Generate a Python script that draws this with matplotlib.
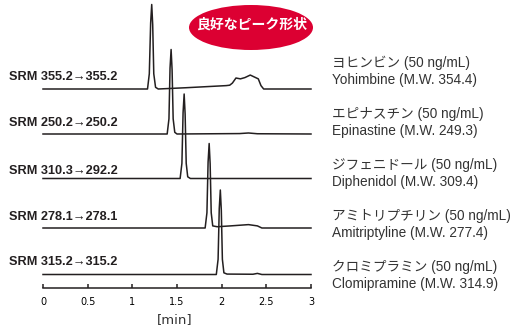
import matplotlib
matplotlib.use("Agg")
import matplotlib.pyplot as plt
from matplotlib.patches import Ellipse

# クロマトグラム (時間[min], 相対強度[%])
t1 = [0, 1.17, 1.19, 1.205, 1.217, 1.228, 1.24, 1.26, 1.29, 1.6, 2.05, 2.09, 2.12, 2.16, 2.21, 2.26, 2.32, 2.37, 2.41, 2.44, 2.47, 3.0]
y1 = [0, 0, 18, 78, 100, 76, 18, 2, 0, 1.5, 4, 4.5, 7, 13, 12, 13.5, 16.5, 14, 12, 4, 0, 0]

t2 = [0, 1.39, 1.41, 1.422, 1.434, 1.445, 1.457, 1.475, 1.5, 2.2, 2.3, 2.4, 3.0]
y2 = [0, 0, 18, 78, 100, 76, 18, 2, 0, 0.5, 1.2, 0.3, 0]

t3 = [0, 1.535, 1.555, 1.568, 1.58, 1.591, 1.603, 1.62, 1.65, 3.0]
y3 = [0, 0, 18, 78, 100, 76, 18, 2, 0, 0]

t4 = [0, 1.815, 1.835, 1.848, 1.86, 1.871, 1.883, 1.9, 1.95, 2.1, 2.3, 2.4, 2.45, 3.0]
y4 = [0, 0, 18, 78, 100, 76, 18, 2.5, 1.5, 2.5, 4, 2.5, 0, 0]

t5 = [0, 1.94, 1.96, 1.973, 1.985, 1.996, 2.008, 2.025, 2.06, 2.35, 2.4, 2.45, 3.0]
y5 = [0, 0, 18, 78, 100, 76, 18, 2, 0.5, 0.3, 1.3, 0, 0]

srm_labels = ["SRM 355.2→355.2", "SRM 250.2→250.2", "SRM 310.3→292.2",
              "SRM 278.1→278.1", "SRM 315.2→315.2"]
names_jp = ["ヨヒンビン (50 ng/mL)", "エピナスチン (50 ng/mL)", "ジフェニドール (50 ng/mL)",
            "アミトリプチリン (50 ng/mL)", "クロミプラミン (50 ng/mL)"]
names_en = ["Yohimbine (M.W. 354.4)", "Epinastine (M.W. 249.3)", "Diphenidol (M.W. 309.4)",
            "Amitriptyline (M.W. 277.4)", "Clomipramine (M.W. 314.9)"]
xticks = [0, 0.5, 1, 1.5, 2, 2.5, 3]
xticklabels = ["0", "0.5", "1", "1.5", "2", "2.5", "3"]

W, H = 518, 333
fig = plt.figure(figsize=(W / 100, H / 100), dpi=100)
ax = fig.add_axes([43 / W, (H - 288) / H, (311 - 43) / W, 288 / H])
ax.set_xlim(0, 3)
ax.set_ylim(0, 288)

traces = [(t1, y1), (t2, y2), (t3, y3), (t4, y4), (t5, y5)]
base_px = [89, 134, 178.5, 228, 274.5]
scale = 0.845
line_c = "#231f20"
for (t, y), b in zip(traces, base_px):
    off = 288 - b
    ax.plot(t, [off + v * scale for v in y], color=line_c, lw=1.1, clip_on=False,
            solid_joinstyle="round")

for s in ["top", "right", "left"]:
    ax.spines[s].set_visible(False)
ax.spines["bottom"].set_color(line_c)
ax.spines["bottom"].set_linewidth(1.1)
ax.set_yticks([])
ax.set_xticks(xticks)
ax.set_xticklabels(xticklabels, family=["Liberation Sans Narrow", "DejaVu Sans"], fontsize=7)
ax.tick_params(axis="x", direction="in", length=3, width=1.1, color=line_c, pad=6.5)
ax.patch.set_alpha(0)

# 左のSRMラベル
srm_y = [77.3, 123, 170.7, 217, 262]
for lab, y in zip(srm_labels, srm_y):
    fig.text(9 / W, 1 - y / H, lab, ha="left", va="center", fontsize=9.2,
             fontweight="bold", family=["Liberation Sans", "DejaVu Sans"], color=line_c)

# 右の化合物名
for i, (jp, en) in enumerate(zip(names_jp, names_en)):
    yj = 62.7 + 51 * i
    fig.text(332 / W, 1 - yj / H, jp, ha="left", va="center", fontsize=9.8,
             family=["Liberation Sans", "Noto Sans CJK JP"], color="#333333")
    fig.text(332 / W, 1 - (yj + 17) / H, en, ha="left", va="center", fontsize=9.8,
             family=["Liberation Sans", "Noto Sans CJK JP"], color="#333333")

fig.text(175 / W, 1 - 320 / H, "[min]", ha="center", va="center", fontsize=9.5,
         family="DejaVu Sans", color="#333333")

# 赤い楕円
ell = Ellipse((251 / W, 1 - 27.5 / H), 124 / W, 45 / H, transform=fig.transFigure,
              facecolor="#dc0032", edgecolor="none")
fig.add_artist(ell)
fig.text(252 / W, 1 - 25 / H, "良好なピーク形状", ha="center", va="center", fontsize=10,
         fontweight="bold", family="Noto Sans CJK JP", color="white")

fig.savefig("out.png", dpi=100)
